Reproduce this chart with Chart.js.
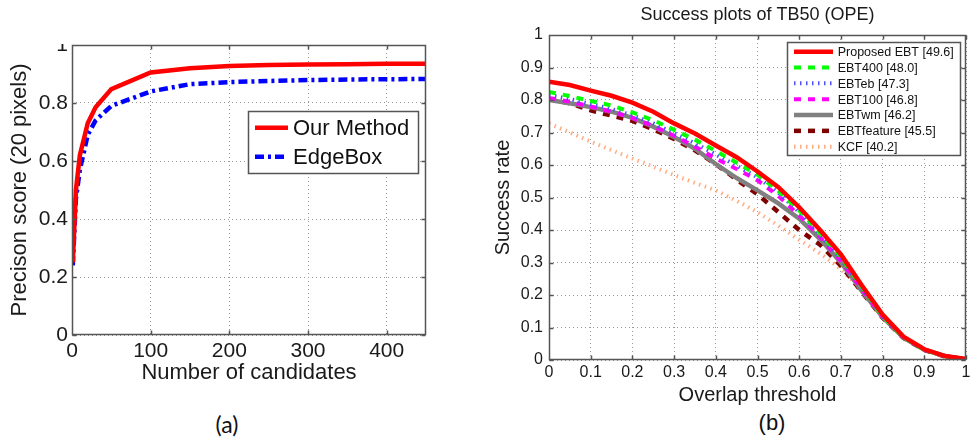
<!DOCTYPE html>
<html>
<head>
<meta charset="utf-8">
<title>Precision / Success plots</title>
<script src="https://cdn.jsdelivr.net/npm/chart.js"></script>
<style>
  html, body { margin: 0; padding: 0; background: #fff; }
  body { width: 970px; height: 443px; position: relative; overflow: hidden; }
  canvas { position: absolute; }
  #chartA { left: 0; top: 44px; }
  #chartB { left: 490px; top: 0; }
  .cap { position: absolute; top: 410px; color: #111; white-space: nowrap; transform: translateX(-50%); }
  #capA { left: 227px; font: 23px Lato, "Open Sans", sans-serif; }
  #capB { left: 772px; font: 22px "Liberation Sans", Arial, sans-serif; }
</style>
</head>
<body>
<canvas id="chartA" width="470" height="346"></canvas>
<canvas id="chartB" width="480" height="410"></canvas>
<div class="cap" id="capA">(a)</div>
<div class="cap" id="capB">(b)</div>
<script>
// ---- (a) precision vs number of candidates ----
const candidates = [1, 5, 10, 20, 30, 50, 100, 150, 200, 250, 300, 350, 400, 450];
const ourMethod = [0.25, 0.50, 0.62, 0.73, 0.785, 0.848, 0.905, 0.92, 0.928, 0.931, 0.933, 0.934, 0.935, 0.935];
const edgeBox = [0.24, 0.47, 0.57, 0.69, 0.74, 0.79, 0.84, 0.865, 0.872, 0.876, 0.879, 0.881, 0.882, 0.883];
const xTicksA = [0, 100, 200, 300, 400];
const yTicksA = [0, 0.2, 0.4, 0.6, 0.8, 1];

// ---- (b) success plots of TB50 (OPE) ----
const thresholds = [0, 0.05, 0.1, 0.15, 0.2, 0.25, 0.3, 0.35, 0.4, 0.45, 0.5, 0.55, 0.6, 0.65, 0.7, 0.75, 0.8, 0.85, 0.9, 0.95, 1];
const proposedEBT = [0.856, 0.846, 0.829, 0.813, 0.792, 0.764, 0.728, 0.697, 0.66, 0.624, 0.58, 0.532, 0.47, 0.40, 0.325, 0.23, 0.14, 0.072, 0.033, 0.012, 0.003];
const ebt400 = [0.825, 0.812, 0.797, 0.783, 0.762, 0.738, 0.708, 0.678, 0.643, 0.607, 0.57, 0.52, 0.46, 0.39, 0.318, 0.225, 0.135, 0.07, 0.032, 0.012, 0.002];
const ebtEb = [0.815, 0.803, 0.788, 0.772, 0.753, 0.728, 0.698, 0.667, 0.632, 0.598, 0.562, 0.515, 0.455, 0.385, 0.312, 0.222, 0.135, 0.07, 0.032, 0.012, 0.002];
const ebt100 = [0.806, 0.795, 0.78, 0.764, 0.745, 0.72, 0.69, 0.657, 0.62, 0.588, 0.553, 0.505, 0.445, 0.378, 0.305, 0.218, 0.133, 0.07, 0.032, 0.012, 0.002];
const ebtWm = [0.80, 0.79, 0.778, 0.764, 0.745, 0.718, 0.686, 0.65, 0.603, 0.56, 0.522, 0.482, 0.435, 0.372, 0.30, 0.213, 0.132, 0.069, 0.032, 0.012, 0.002];
const ebtFeature = [0.803, 0.79, 0.768, 0.752, 0.736, 0.71, 0.68, 0.645, 0.603, 0.555, 0.51, 0.455, 0.40, 0.355, 0.29, 0.21, 0.13, 0.068, 0.031, 0.011, 0.002];
const kcf = [0.728, 0.70, 0.672, 0.646, 0.62, 0.595, 0.569, 0.545, 0.522, 0.49, 0.455, 0.413, 0.37, 0.328, 0.28, 0.215, 0.14, 0.07, 0.03, 0.01, 0.001];
const ticksB = [0, 0.1, 0.2, 0.3, 0.4, 0.5, 0.6, 0.7, 0.8, 0.9, 1];

const seriesB = [
  { label: 'Proposed EBT [49.6]', data: proposedEBT, color: '#ff0000', width: 4.5, dash: [] },
  { label: 'EBT400 [48.0]', data: ebt400, color: '#00ff00', width: 4, dash: [7, 7] },
  { label: 'EBTeb [47.3]', data: ebtEb, color: '#5050ff', width: 4, dash: [1.5, 4.5] },
  { label: 'EBT100 [46.8]', data: ebt100, color: '#ff00ff', width: 4, dash: [7, 7] },
  { label: 'EBTwm [46.2]', data: ebtWm, color: '#808080', width: 4.5, dash: [] },
  { label: 'EBTfeature [45.5]', data: ebtFeature, color: '#800000', width: 4.5, dash: [7, 7] },
  { label: 'KCF [40.2]', data: kcf, color: '#ffab82', width: 4, dash: [1.5, 4.5] }
];

Chart.defaults.font.family = "'Liberation Sans', Arial, Helvetica, sans-serif";
Chart.defaults.color = '#1a1a1a';

const pair = (xs, ys) => xs.map((x, i) => ({ x: x, y: ys[i] }));
const fmt = v => String(Math.round(v * 10) / 10);
// keep tick labels from pushing the plot box around (matlab lets them hang out)
const noPad = s => { s.paddingTop = 0; s.paddingBottom = 0; s.paddingLeft = 0; s.paddingRight = 0; };

// matlab-ish box with inward tick marks
const matFrame = {
  id: 'matFrame',
  afterDatasetsDraw(chart, args, o) {
    const { ctx, chartArea: a, scales } = chart;
    const len = o.len || 4;
    ctx.save();
    ctx.setLineDash([]);
    ctx.globalAlpha = 1;
    ctx.strokeStyle = o.color || '#555';
    ctx.lineWidth = 1.5;
    ctx.beginPath();
    const l = Math.round(a.left) + 0.5, r = Math.round(a.right) - 0.5;
    const t = Math.round(a.top) + 0.5, b = Math.round(a.bottom) - 0.5;
    ctx.moveTo(l, t); ctx.lineTo(r, t); ctx.lineTo(r, b); ctx.lineTo(l, b); ctx.closePath();
    scales.x.ticks.forEach(tk => {
      const px = Math.round(scales.x.getPixelForValue(tk.value)) + 0.5;
      ctx.moveTo(px, b); ctx.lineTo(px, b - len);
      ctx.moveTo(px, t); ctx.lineTo(px, t + len);
    });
    scales.y.ticks.forEach(tk => {
      const py = Math.round(scales.y.getPixelForValue(tk.value)) + 0.5;
      ctx.moveTo(l, py); ctx.lineTo(l + len, py);
      ctx.moveTo(r, py); ctx.lineTo(r - len, py);
    });
    ctx.stroke();
    ctx.restore();
  }
};

// legend box drawn inside the axes
const boxLegend = {
  id: 'boxLegend',
  afterDatasetsDraw(chart, args, o) {
    const ctx = chart.ctx;
    ctx.save();
    ctx.setLineDash([]);
    ctx.fillStyle = '#fff';
    ctx.fillRect(o.left, o.top, o.width, o.height);
    ctx.strokeStyle = '#555';
    ctx.lineWidth = 1.5;
    ctx.strokeRect(Math.round(o.left) + 0.5, Math.round(o.top) + 0.5, Math.round(o.width), Math.round(o.height));
    chart.data.datasets.forEach((ds, i) => {
      const yy = o.firstRow + i * o.rowGap;
      ctx.beginPath();
      ctx.setLineDash(ds.borderDash || []);
      ctx.lineWidth = ds.borderWidth;
      ctx.strokeStyle = ds.borderColor;
      ctx.moveTo(o.sampleX, yy);
      ctx.lineTo(o.sampleX + o.sampleLen, yy);
      ctx.stroke();
      ctx.setLineDash([]);
      ctx.fillStyle = '#111';
      ctx.font = o.font;
      ctx.textBaseline = 'middle';
      ctx.textAlign = 'left';
      ctx.fillText(ds.label, o.textX, yy + 1);
    });
    ctx.restore();
  }
};

const gridStyle = { color: '#999', lineWidth: 1, drawTicks: false };
const borderStyle = { display: false, dash: [1, 3] };

new Chart(document.getElementById('chartA'), {
  type: 'line',
  data: {
    datasets: [
      { label: 'Our Method', data: pair(candidates, ourMethod), borderColor: '#ff0000', borderWidth: 4.5, borderDash: [] },
      { label: 'EdgeBox', data: pair(candidates, edgeBox), borderColor: '#0000ff', borderWidth: 4.5, borderDash: [9, 4, 3, 4] }
    ]
  },
  options: {
    responsive: false,
    animation: false,
    events: [],
    elements: { point: { radius: 0 }, line: { tension: 0, fill: false } },
    layout: { autoPadding: false, padding: { top: 1, right: 44, left: 0, bottom: 0 } },
    scales: {
      x: {
        type: 'linear', min: 0, max: 450,
        afterBuildTicks: s => { s.ticks = xTicksA.map(v => ({ value: v })); },
        afterFit: s => { s.height = 55; noPad(s); },
        grid: gridStyle, border: borderStyle,
        ticks: { font: { size: 21 }, padding: 4, maxRotation: 0, callback: v => String(v) },
        title: { display: true, text: 'Number of candidates', font: { size: 22 }, padding: { top: 4, bottom: 4 } }
      },
      y: {
        type: 'linear', min: 0, max: 1,
        afterBuildTicks: s => { s.ticks = yTicksA.map(v => ({ value: v })); },
        afterFit: s => { s.width = 72; noPad(s); },
        grid: gridStyle, border: borderStyle,
        ticks: { font: { size: 21 }, padding: 4, callback: fmt },
        title: { display: true, text: 'Precison score (20 pixels)', font: { size: 22 }, padding: { top: 7, bottom: 0 } }
      }
    },
    plugins: {
      legend: { display: false },
      tooltip: { enabled: false },
      matFrame: { color: '#555', len: 4 },
      boxLegend: { left: 248, top: 67, width: 170, height: 62, firstRow: 83.7, rowGap: 29, sampleX: 255, sampleLen: 33, textX: 293, font: "22px 'Liberation Sans', Arial, sans-serif" }
    }
  },
  plugins: [matFrame, boxLegend]
});

new Chart(document.getElementById('chartB'), {
  type: 'line',
  data: {
    datasets: seriesB.map(s => ({
      label: s.label,
      data: pair(thresholds, s.data),
      borderColor: s.color,
      borderWidth: s.width,
      borderDash: s.dash
    }))
  },
  options: {
    responsive: false,
    animation: false,
    events: [],
    elements: { point: { radius: 0 }, line: { tension: 0, fill: false, borderCapStyle: 'butt' } },
    layout: { autoPadding: false, padding: { top: 0, right: 4, left: 0, bottom: 0 } },
    scales: {
      x: {
        type: 'linear', min: 0, max: 1,
        afterBuildTicks: s => { s.ticks = ticksB.map(v => ({ value: v })); },
        afterFit: s => { s.height = 50; noPad(s); },
        grid: gridStyle, border: borderStyle,
        ticks: { font: { size: 16 }, padding: 3, maxRotation: 0, callback: fmt },
        title: { display: true, text: 'Overlap threshold', font: { size: 20 }, padding: { top: 2, bottom: 3 } }
      },
      y: {
        type: 'linear', min: 0, max: 1,
        afterBuildTicks: s => { s.ticks = ticksB.map(v => ({ value: v })); },
        afterFit: s => { s.width = 59; noPad(s); },
        grid: gridStyle, border: borderStyle,
        ticks: { font: { size: 16 }, padding: 6, callback: fmt },
        title: { display: true, text: 'Success rate', font: { size: 20 }, padding: { top: 1, bottom: 0 } }
      }
    },
    plugins: {
      legend: { display: false },
      tooltip: { enabled: false },
      title: { display: true, text: 'Success plots of TB50 (OPE)', fullSize: false, font: { size: 18, weight: 'normal' }, color: '#1a1a1a', padding: { top: 4.2, bottom: 9.2 } },
      matFrame: { color: '#555', len: 4 },
      boxLegend: { left: 296.7, top: 41.7, width: 173, height: 113.3, firstRow: 51.7, rowGap: 15.83, sampleX: 304, sampleLen: 39, textX: 347.7, font: "12.5px 'Liberation Sans', Arial, sans-serif" }
    }
  },
  plugins: [matFrame, boxLegend]
});
</script>
</body>
</html>
